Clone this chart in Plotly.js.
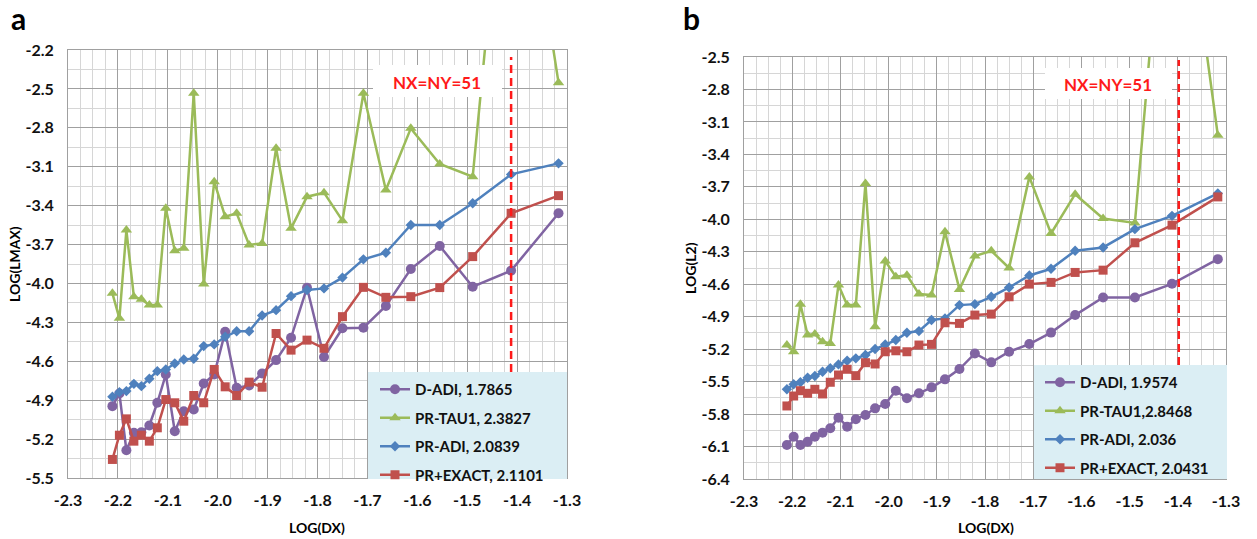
<!DOCTYPE html>
<html>
<head>
<meta charset="utf-8">
<script src="https://cdn.plot.ly/plotly-3.0.1.min.js"></script>
<style>html,body{margin:0;padding:0;background:#fff;}#chart{width:1257px;height:539px;}</style>
</head>
<body>
<div id="chart"></div>
<script>
// log10(dx) for each grid size
const logDX = [-2.211, -2.197, -2.183, -2.168, -2.153, -2.137, -2.121, -2.104, -2.086, -2.068, -2.048, -2.028, -2.007, -1.985, -1.962, -1.937, -1.911, -1.883, -1.853, -1.821, -1.787, -1.750, -1.708, -1.663, -1.613, -1.555, -1.489, -1.412, -1.317];

// Panel a: LOG(LMAX)
const dadiLmax  = [-4.946, -4.848, -5.286, -5.152, -5.147, -5.095, -4.920, -4.702, -5.139, -4.985, -4.972, -4.771, -4.702, -4.373, -4.805, -4.787, -4.694, -4.591, -4.419, -4.033, -4.567, -4.346, -4.341, -4.174, -3.889, -3.711, -4.025, -3.901, -3.459];
const tauLmax   = [-4.076, -4.269, -3.588, -4.102, -4.122, -4.166, -4.166, -3.421, -3.747, -3.729, -2.534, -4.004, -3.215, -3.485, -3.459, -3.703, -3.691, -2.958, -3.575, -3.331, -3.300, -3.516, -2.534, -3.279, -2.804, -3.079, -3.177, -0.100, -2.452];
const adiLmax   = [-4.874, -4.838, -4.830, -4.774, -4.792, -4.735, -4.676, -4.663, -4.617, -4.586, -4.581, -4.483, -4.470, -4.411, -4.368, -4.368, -4.247, -4.206, -4.098, -4.051, -4.038, -3.955, -3.814, -3.763, -3.549, -3.549, -3.382, -3.159, -3.074];
const exactLmax = [-5.357, -5.170, -5.044, -5.216, -5.170, -5.216, -5.113, -4.895, -4.920, -5.062, -4.864, -4.920, -4.663, -4.797, -4.864, -4.761, -4.800, -4.386, -4.514, -4.437, -4.500, -4.256, -4.030, -4.107, -4.102, -4.032, -3.793, -3.459, -3.323];
const namesA = ['D-ADI, 1.7865', 'PR-TAU1, 2.3827', 'PR-ADI, 2.0839', 'PR+EXACT, 2.1101'];

// Panel b: LOG(L2)
const dadiL2  = [-6.085, -6.009, -6.085, -6.055, -6.009, -5.972, -5.931, -5.833, -5.916, -5.848, -5.808, -5.747, -5.707, -5.584, -5.654, -5.608, -5.553, -5.479, -5.384, -5.240, -5.322, -5.224, -5.153, -5.047, -4.885, -4.723, -4.723, -4.596, -4.368];
const tauL2   = [-5.162, -5.224, -4.784, -5.070, -5.061, -5.132, -5.147, -4.608, -4.793, -4.793, -3.669, -4.993, -4.386, -4.531, -4.516, -4.691, -4.700, -4.116, -4.648, -4.340, -4.291, -4.450, -3.608, -4.131, -3.768, -3.992, -4.033, -0.100, -3.223];
const adiL2   = [-5.571, -5.525, -5.506, -5.464, -5.448, -5.409, -5.377, -5.341, -5.307, -5.285, -5.254, -5.199, -5.156, -5.116, -5.048, -5.033, -4.931, -4.916, -4.793, -4.784, -4.716, -4.630, -4.519, -4.457, -4.291, -4.260, -4.091, -3.968, -3.761];
const exactL2 = [-5.725, -5.633, -5.584, -5.608, -5.571, -5.614, -5.506, -5.439, -5.386, -5.445, -5.325, -5.337, -5.224, -5.215, -5.224, -5.162, -5.156, -4.956, -4.962, -4.885, -4.876, -4.716, -4.599, -4.583, -4.491, -4.470, -4.217, -4.054, -3.793];
const namesB = ['D-ADI, 1.9574', 'PR-TAU1,2.8468', 'PR-ADI, 2.036', 'PR+EXACT, 2.0431'];

// ticks
const xTickVals = [-2.3, -2.2, -2.1, -2.0, -1.9, -1.8, -1.7, -1.6, -1.5, -1.4, -1.3];
const xTickText = ['-2.3', '-2.2', '-2.1', '-2.0', '-1.9', '-1.8', '-1.7', '-1.6', '-1.5', '-1.4', '-1.3'];
const yTickValsA = [-5.5, -5.2, -4.9, -4.6, -4.3, -4.0, -3.7, -3.4, -3.1, -2.8, -2.5, -2.2];
const yTickTextA = ['-5.5', '-5.2', '-4.9', '-4.6', '-4.3', '-4.0', '-3.7', '-3.4', '-3.1', '-2.8', '-2.5', '-2.2'];
const yTickValsB = [-6.4, -6.1, -5.8, -5.5, -5.2, -4.9, -4.6, -4.3, -4.0, -3.7, -3.4, -3.1, -2.8, -2.5];
const yTickTextB = ['-6.4', '-6.1', '-5.8', '-5.5', '-5.2', '-4.9', '-4.6', '-4.3', '-4.0', '-3.7', '-3.4', '-3.1', '-2.8', '-2.5'];
const refLineA = -1.412, refLineB = -1.398;
const refLabel = 'NX=NY=51';

const W = 1257, H = 539;
const px = v => v / W;
const py = v => 1 - v / H;
const FONT = 'Lato, "Liberation Sans", Arial, sans-serif';

const styles = [
  {color: '#8064A2', symbol: 'circle', size: 10},
  {color: '#9BBB59', symbol: 'triangle-up', size: 10},
  {color: '#4F81BD', symbol: 'diamond', size: 8},
  {color: '#C0504D', symbol: 'square', size: 9}
];

function mk(y, name, i, xa, ya, leg) {
  const s = styles[i];
  return {
    x: logDX, y: y, name: name, type: 'scatter', mode: 'lines+markers',
    xaxis: xa, yaxis: ya, legend: leg, legendgroup: leg + i,
    line: {color: s.color, width: 2.5},
    marker: {color: s.color, symbol: s.symbol, size: s.size, line: {width: 0}}
  };
}

const seriesA = [dadiLmax, tauLmax, adiLmax, exactLmax];
const seriesB = [dadiL2, tauL2, adiL2, exactL2];
const data = [];
seriesA.forEach((s, i) => data.push(mk(s, namesA[i], i, 'x', 'y', 'legend')));
seriesB.forEach((s, i) => data.push(mk(s, namesB[i], i, 'x2', 'y2', 'legend2')));

const tickFont = {family: FONT, size: 16, color: '#111', weight: 'bold'};
function xAxis(dom, anchor) {
  return {
    domain: dom, anchor: anchor, range: [-2.3, -1.3], tickmode: 'array',
    tickvals: xTickVals, ticktext: xTickText, tickfont: tickFont, ticks: '',
    ticklabelstandoff: 8,
    showgrid: true, gridcolor: '#a0a0a0', gridwidth: 1,
    minor: {tickmode: 'linear', tick0: -2.3, dtick: 0.025, showgrid: true, gridcolor: '#d6d6d6', gridwidth: 1},
    showline: true, mirror: true, linecolor: '#a0a0a0', linewidth: 1, zeroline: false, fixedrange: true
  };
}
function yAxis(dom, anchor, range, vals, text) {
  return {
    domain: dom, anchor: anchor, range: range, tickmode: 'array',
    tickvals: vals, ticktext: text, tickfont: tickFont, ticks: '',
    ticklabelstandoff: 10,
    showgrid: true, gridcolor: '#a0a0a0', gridwidth: 1,
    minor: {tickmode: 'linear', tick0: range[0], dtick: 0.15, showgrid: true, gridcolor: '#d6d6d6', gridwidth: 1},
    showline: true, mirror: true, linecolor: '#a0a0a0', linewidth: 1, zeroline: false, fixedrange: true
  };
}

function legendCfg(x, y) {
  return {
    x: px(x), y: py(y), xanchor: 'left', yanchor: 'top', bgcolor: 'rgba(0,0,0,0)',
    borderwidth: 0, font: {family: FONT, size: 15, color: '#111', weight: 'bold'},
    traceorder: 'grouped', tracegroupgap: 6, itemwidth: 30
  };
}

const shapes = [
  {type: 'line', xref: 'x', yref: 'paper', x0: refLineA, x1: refLineA, y0: py(372), y1: py(57),
   line: {color: '#FF1A1A', width: 2.5, dash: '8px,5px'}, layer: 'above'},
  {type: 'line', xref: 'x2', yref: 'paper', x0: refLineB, x1: refLineB, y0: py(365), y1: py(60),
   line: {color: '#FF1A1A', width: 2.5, dash: '8px,5px'}, layer: 'above'},
  {type: 'rect', xref: 'paper', yref: 'paper', x0: px(368), x1: px(567), y0: py(479), y1: py(372),
   fillcolor: '#DBEEF4', line: {width: 0}, layer: 'above'},
  {type: 'rect', xref: 'paper', yref: 'paper', x0: px(1034), x1: px(1227), y0: py(479), y1: py(365),
   fillcolor: '#DBEEF4', line: {width: 0}, layer: 'above'},
  {type: 'rect', xref: 'paper', yref: 'paper', x0: px(373), x1: px(502), y0: py(97), y1: py(65),
   fillcolor: '#FFFFFF', line: {width: 0}, layer: 'above'},
  {type: 'rect', xref: 'paper', yref: 'paper', x0: px(1045), x1: px(1172), y0: py(99), y1: py(68),
   fillcolor: '#FFFFFF', line: {width: 0}, layer: 'above'}
];

function ann(text, x, y, size, opts) {
  return Object.assign({text: text, xref: 'paper', yref: 'paper', x: px(x), y: py(y),
    xanchor: 'center', yanchor: 'middle', showarrow: false,
    font: {family: FONT, size: size, color: '#000', weight: 'bold'}}, opts || {});
}

const annotations = [
  ann('a', 18, 18, 30),
  ann('b', 691, 18, 30),
  ann('LOG(LMAX)', 14, 264, 14, {textangle: -90}),
  ann('LOG(L2)', 690, 268, 14, {textangle: -90}),
  ann('LOG(DX)', 317, 527, 14),
  ann('LOG(DX)', 986, 527, 14),
  ann(refLabel, 437, 82, 17, {font: {family: FONT, size: 17, color: '#FF1A1A', weight: 'bold'}}),
  ann(refLabel, 1108, 84, 17, {font: {family: FONT, size: 17, color: '#FF1A1A', weight: 'bold'}})
];

const layout = {
  width: W, height: H, margin: {l: 0, r: 0, t: 0, b: 0},
  paper_bgcolor: '#fff', plot_bgcolor: '#fff', showlegend: true,
  font: {family: FONT, size: 15, color: '#000'},
  xaxis: xAxis([px(68), px(567)], 'y'),
  yaxis: yAxis([py(478), py(50)], 'x', [-5.5, -2.2], yTickValsA, yTickTextA),
  xaxis2: xAxis([px(744), px(1226)], 'y2'),
  yaxis2: yAxis([py(479), py(57)], 'x2', [-6.4, -2.5], yTickValsB, yTickTextB),
  legend: legendCfg(375, 373),
  legend2: legendCfg(1040, 366),
  shapes: shapes,
  annotations: annotations
};

Plotly.newPlot('chart', data, layout, {staticPlot: true, displayModeBar: false});
</script>
</body>
</html>
